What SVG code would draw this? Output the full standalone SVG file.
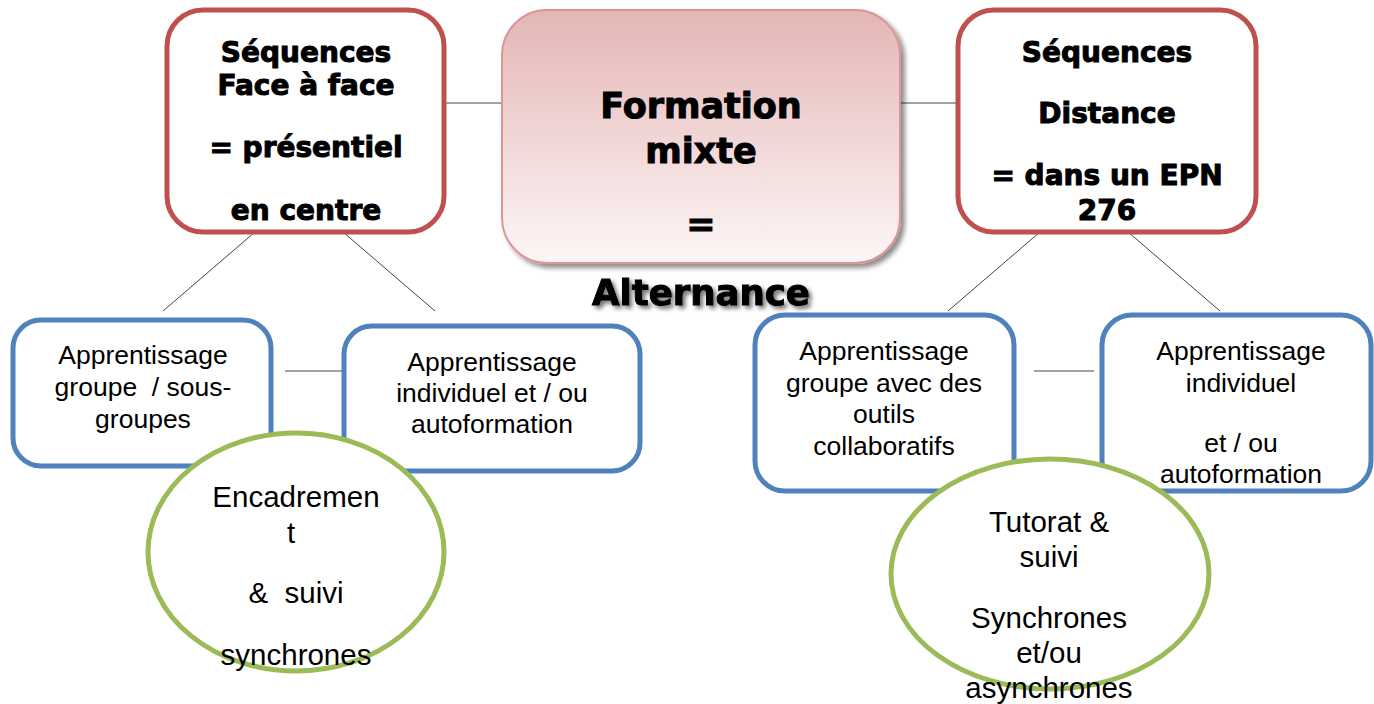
<svg xmlns="http://www.w3.org/2000/svg" width="1374" height="704" viewBox="0 0 1374 704">
<defs>
<linearGradient id="pink" x1="0" y1="0" x2="0" y2="1">
<stop offset="0" stop-color="#e4b6b5"/>
<stop offset="1" stop-color="#fdf6f6"/>
</linearGradient>
<filter id="shadow" x="-10%" y="-10%" width="125%" height="130%">
<feGaussianBlur in="SourceAlpha" stdDeviation="2.5"/>
<feOffset dx="4" dy="4" result="b"/>
<feComponentTransfer><feFuncA type="linear" slope="0.45"/></feComponentTransfer>
<feMerge><feMergeNode/><feMergeNode in="SourceGraphic"/></feMerge>
</filter>
<filter id="tshadow" x="-10%" y="-30%" width="125%" height="170%">
<feGaussianBlur in="SourceAlpha" stdDeviation="2"/>
<feOffset dx="3" dy="3"/>
<feComponentTransfer><feFuncA type="linear" slope="0.55"/></feComponentTransfer>
<feMerge><feMergeNode/><feMergeNode in="SourceGraphic"/></feMerge>
</filter>
</defs>
<style>
.red{fill:#fff;stroke:#c0504d;stroke-width:5}
.blue{fill:#fff;stroke:#4f81bd;stroke-width:5}
.green{fill:#fff;stroke:#9bbb59;stroke-width:5}
.bold{font-family:"DejaVu Sans",sans-serif;font-weight:bold;fill:#000;stroke:#000;stroke-width:1;text-anchor:middle}
.t{font-family:"Liberation Sans",Arial,sans-serif;font-size:26.5px;fill:#000;text-anchor:middle}
.c{font-family:"Liberation Sans",Arial,sans-serif;font-size:29.5px;fill:#000;text-anchor:middle}
.ln{stroke:#444;stroke-width:1;fill:none}
</style>
<rect width="1374" height="704" fill="#fff"/>
<g id="connectors">
<line class="ln" x1="445" y1="103" x2="503" y2="103"/>
<line class="ln" x1="900" y1="103" x2="958" y2="103"/>
<line class="ln" x1="255" y1="232" x2="163" y2="311"/>
<line class="ln" x1="343" y1="232" x2="435" y2="311"/>
<line class="ln" x1="1040" y1="232" x2="948" y2="311"/>
<line class="ln" x1="1128" y1="232" x2="1220" y2="311"/>
<line class="ln" x1="285" y1="371" x2="344" y2="371"/>
<line class="ln" x1="1034" y1="371" x2="1094" y2="371"/>
</g>
<g id="center">
<rect x="502" y="10" width="398" height="253" rx="45" fill="url(#pink)" stroke="#d99694" stroke-width="2" filter="url(#shadow)"/>
<text class="bold" font-size="35" x="701" y="118">Formation</text>
<text class="bold" font-size="35" x="701" y="163">mixte</text>
<text class="bold" font-size="35" x="701" y="236">=</text>
<text class="bold" font-size="35.5" x="701" y="305" filter="url(#tshadow)">Alternance</text>
</g>
<g id="face">
<rect class="red" x="167" y="10" width="277" height="222" rx="36"/>
<text class="bold" font-size="28" x="306" y="62">Séquences</text>
<text class="bold" font-size="28" x="306" y="95">Face à face</text>
<text class="bold" font-size="28" x="306" y="157">= présentiel</text>
<text class="bold" font-size="28" x="306" y="220">en centre</text>
</g>
<g id="distance">
<rect class="red" x="958" y="10" width="298" height="222" rx="36"/>
<text class="bold" font-size="28" x="1107" y="62">Séquences</text>
<text class="bold" font-size="28" x="1107" y="123">Distance</text>
<text class="bold" font-size="28" x="1107" y="185">= dans un EPN</text>
<text class="bold" font-size="28" x="1107" y="220">276</text>
</g>
<g id="groupe">
<rect class="blue" x="13" y="320" width="258" height="146" rx="28"/>
<text class="t" x="143" y="364">Apprentissage</text>
<text class="t" x="143" y="396" xml:space="preserve">groupe  / sous-</text>
<text class="t" x="143" y="428">groupes</text>
</g>
<g id="individuel">
<rect class="blue" x="344" y="326" width="296" height="145" rx="28"/>
<text class="t" x="492" y="371">Apprentissage</text>
<text class="t" x="492" y="402">individuel et / ou</text>
<text class="t" x="492" y="433">autoformation</text>
</g>
<g id="encadrement">
<ellipse class="green" cx="296" cy="552" rx="148" ry="119"/>
<text class="c" x="296" y="507">Encadremen</text>
<text class="c" x="291" y="543">t</text>
<text class="c" x="296" y="603" xml:space="preserve">&amp;  suivi</text>
<text class="c" x="296" y="665">synchrones</text>
</g>
<g id="collab">
<rect class="blue" x="755" y="315" width="259" height="176" rx="30"/>
<text class="t" x="884" y="360">Apprentissage</text>
<text class="t" x="884" y="392">groupe avec des</text>
<text class="t" x="884" y="423">outils</text>
<text class="t" x="884" y="455">collaboratifs</text>
</g>
<g id="indiv2">
<rect class="blue" x="1102" y="315" width="269" height="176" rx="30"/>
<text class="t" x="1241" y="360">Apprentissage</text>
<text class="t" x="1241" y="392">individuel</text>
<text class="t" x="1241" y="452">et / ou</text>
<text class="t" x="1241" y="483">autoformation</text>
</g>
<g id="tutorat">
<ellipse class="green" cx="1050" cy="574" rx="159" ry="115"/>
<text class="c" x="1049" y="532">Tutorat &amp;</text>
<text class="c" x="1049" y="567">suivi</text>
<text class="c" x="1049" y="628">Synchrones</text>
<text class="c" x="1049" y="663">et/ou</text>
<text class="c" x="1049" y="698">asynchrones</text>
</g>
</svg>
